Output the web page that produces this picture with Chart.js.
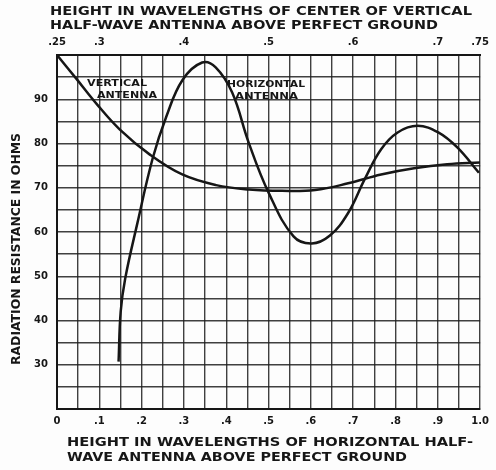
<!DOCTYPE html>
<html>
<head>
<meta charset="utf-8">
<script src="https://cdn.jsdelivr.net/npm/chart.js@4"></script>
<style>
  html, body { margin: 0; padding: 0; background: #fdfdfd; }
  #wrap { width: 496px; height: 470px; }
</style>
</head>
<body>
<div id="wrap"><canvas id="myChart" width="496" height="470"></canvas></div>
<script>
// heights of vertical antenna center (top axis) and resistance
const vertH = [0.25, 0.273, 0.297, 0.324, 0.359, 0.398, 0.438, 0.477, 0.516, 0.555, 0.594, 0.633, 0.672, 0.711, 0.75];
const vertR = [100, 94.6, 88.9, 83.2, 77.6, 73.0, 70.6, 69.6, 69.3, 69.5, 71.0, 73.0, 74.4, 75.3, 75.7];

// heights of horizontal antenna (bottom axis) and resistance
const horH = [0.1455, 0.1505, 0.1612, 0.190, 0.226, 0.258, 0.297, 0.343, 0.375, 0.414, 0.453, 0.500, 0.559, 0.602, 0.645, 0.688, 0.727, 0.766, 0.805, 0.852, 0.901, 0.946, 0.997];
const horR = [30.7, 42.0, 49.5, 62.0, 76.6, 86.0, 94.4, 98.3, 97.2, 91.5, 80.2, 68.9, 59.0, 57.4, 59.2, 64.3, 71.9, 78.7, 82.5, 84.0, 82.5, 79.1, 73.4];

const topTicks = [0.25, 0.3, 0.4, 0.5, 0.6, 0.7, 0.75];

const topTitle = ['HEIGHT IN WAVELENGTHS OF CENTER OF VERTICAL', 'HALF-WAVE ANTENNA ABOVE PERFECT GROUND'];
const bottomTitle = ['HEIGHT IN WAVELENGTHS OF HORIZONTAL HALF-', 'WAVE ANTENNA ABOVE PERFECT GROUND'];
const yTitle = 'RADIATION RESISTANCE IN OHMS';

const ink = '#161616';
const font = '"DejaVu Sans", sans-serif';

function toPoints(xs, ys) {
	return xs.map((x, i) => ({ x: x, y: ys[i] }));
}

// scrive il testo stirandolo alla larghezza voluta
function fitText(c, txt, x, y, w) {
	let m = c.measureText(txt).width;
	c.save();
	c.translate(x, y);
	c.scale(w / m, 1);
	c.fillText(txt, 0, 0);
	c.restore();
}

const textPlugin = {
	id: 'texts',
	afterDraw(chart) {
		const c = chart.ctx;
		c.save();
		c.fillStyle = ink;
		c.textBaseline = 'middle';
		c.textAlign = 'left';
		c.font = 'bold 13px ' + font;
		fitText(c, topTitle[0], 50, 12, 422);
		fitText(c, topTitle[1], 50, 26, 388);
		fitText(c, bottomTitle[0], 67, 443, 406);
		fitText(c, bottomTitle[1], 67, 458, 340);

		c.save();
		c.translate(17, 249);
		c.rotate(-Math.PI / 2);
		fitText(c, yTitle, -116, 0, 232);
		c.restore();

		c.font = 'bold 9px ' + font;
		fitText(c, 'VERTICAL', 87, 84, 60);
		fitText(c, 'ANTENNA', 97, 96, 60);
		fitText(c, 'HORIZONTAL', 227, 85, 78);
		fitText(c, 'ANTENNA', 235, 97, 63);
		c.restore();
	}
};

const ctx = document.getElementById('myChart');

new Chart(ctx, {
	type: 'scatter',
	data: {
		datasets: [{
			label: 'Vertical antenna',
			data: toPoints(vertH, vertR),
			xAxisID: 'x2',
			yAxisID: 'y',
			showLine: true,
			borderColor: ink,
			borderWidth: 2.5,
			pointRadius: 0,
			tension: 0.4
		}, {
			label: 'Horizontal antenna',
			data: toPoints(horH, horR),
			xAxisID: 'x',
			yAxisID: 'y',
			showLine: true,
			borderColor: ink,
			borderWidth: 2.5,
			pointRadius: 0,
			tension: 0.4
		}]
	},
	options: {
		responsive: false,
		animation: false,
		layout: { padding: { left: 0, right: 13, top: 0, bottom: 0 } },
		plugins: {
			legend: { display: false },
			tooltip: { enabled: false }
		},
		scales: {
			x: {
				type: 'linear',
				position: 'bottom',
				min: 0,
				max: 1,
				afterFit(s) { s.height = 61; },
				ticks: {
					stepSize: 0.05,
					autoSkip: false,
					maxRotation: 0,
					padding: 6,
					color: ink,
					font: { family: font, size: 10, weight: 'bold' },
					callback(v) {
						let t = Math.round(v * 10);
						if (Math.abs(v * 10 - t) > 1e-6) return '';
						if (t === 0) return '0';
						if (t === 10) return '1.0';
						return '.' + t;
					}
				},
				grid: { color: 'rgba(30,30,30,0.85)', lineWidth: 1.4, drawTicks: false },
				border: { color: ink, width: 2 }
			},
			x2: {
				type: 'linear',
				position: 'top',
				min: 0.25,
				max: 0.75,
				afterFit(s) { s.height = 55; },
				afterBuildTicks(s) { s.ticks = topTicks.map(v => ({ value: v })); },
				ticks: {
					autoSkip: false,
					maxRotation: 0,
					padding: 7,
					color: ink,
					font: { family: font, size: 10, weight: 'bold' },
					callback(v) { return String(v).replace('0.', '.'); }
				},
				grid: { display: false, drawTicks: false },
				border: { color: ink, width: 2 }
			},
			y: {
				min: 20,
				max: 100,
				afterFit(s) { s.width = 57; },
				ticks: {
					stepSize: 5,
					autoSkip: false,
					padding: 9,
					color: ink,
					font: { family: font, size: 10, weight: 'bold' },
					callback(v) {
						if (v % 10 === 0 && v >= 30 && v <= 90) return String(v);
						return '';
					}
				},
				grid: { color: 'rgba(30,30,30,0.85)', lineWidth: 1.4, drawTicks: false },
				border: { color: ink, width: 2 }
			}
		}
	},
	plugins: [textPlugin]
});
</script>
</body>
</html>
